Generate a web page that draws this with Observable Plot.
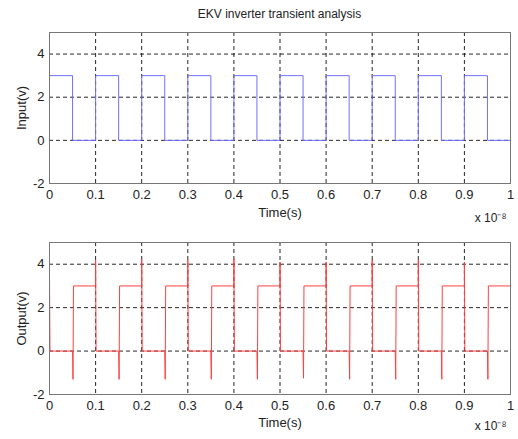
<!DOCTYPE html>
<html><head><meta charset="utf-8">
<script src="https://cdn.jsdelivr.net/npm/d3@7"></script>
<script src="https://cdn.jsdelivr.net/npm/@observablehq/plot@0.6"></script>
<style>
body{margin:0;background:#fff;font-family:"Liberation Sans",Arial,sans-serif;}
#wrap{position:relative;width:518px;height:439px;}
#title{position:absolute;top:7px;left:49px;width:461px;text-align:center;font-size:12px;color:#222;z-index:5;}
#p1{position:absolute;top:0;left:0;}
#p2{position:absolute;top:220px;left:0;}
</style></head>
<body>
<div id="wrap"><div id="p1"></div><div id="p2"></div><div id="title"></div></div>
<script>
const titleText = "EKV inverter transient analysis";
const xTicks = [0,0.1,0.2,0.3,0.4,0.5,0.6,0.7,0.8,0.9,1];
const xTickLabels = ["0","0.1","0.2","0.3","0.4","0.5","0.6","0.7","0.8","0.9","1"];
const yTicks = [-2,0,2,4];
const xExponent = "x 10⁻⁸";

const inT = [0,0.05,0.05,0.1, 0.1,0.15,0.15,0.2, 0.2,0.25,0.25,0.3, 0.3,0.35,0.35,0.4, 0.4,0.45,0.45,0.5,
             0.5,0.55,0.55,0.6, 0.6,0.65,0.65,0.7, 0.7,0.75,0.75,0.8, 0.8,0.85,0.85,0.9, 0.9,0.95,0.95,1];
const inV = [3,3,0,0, 3,3,0,0, 3,3,0,0, 3,3,0,0, 3,3,0,0,
             3,3,0,0, 3,3,0,0, 3,3,0,0, 3,3,0,0, 3,3,0,0];

const outT = [0,0.001,0.05,0.051,0.052,0.1,
              0.1,0.101,0.15,0.151,0.152,0.2,
              0.2,0.201,0.25,0.251,0.252,0.3,
              0.3,0.301,0.35,0.351,0.352,0.4,
              0.4,0.401,0.45,0.451,0.452,0.5,
              0.5,0.501,0.55,0.551,0.552,0.6,
              0.6,0.601,0.65,0.651,0.652,0.7,
              0.7,0.701,0.75,0.751,0.752,0.8,
              0.8,0.801,0.85,0.851,0.852,0.9,
              0.9,0.901,0.95,0.951,0.952,1];
const outV = [3.5,0,0,-1.3,3,3,
              4.2,0,0,-1.3,3,3,
              4.25,0,0,-1.3,3,3,
              4.2,0,0,-1.3,3,3,
              4.25,0,0,-1.3,3,3,
              4.1,0,0,-1.25,3,3,
              4.1,0,0,-1.3,3,3,
              4.2,0,0,-1.3,3,3,
              4.2,0,0,-1.3,3,3,
              4.1,0,0,-1.3,3,3];

const inData = inT.map((t,i)=>({t, v: inV[i]}));
const outData = outT.map((t,i)=>({t, v: outV[i]}));

document.getElementById("title").textContent = titleText;

function panel(data, color, ylabel, height, mt, mb, labelOffset, expDy){
  return Plot.plot({
    width: 518, height, marginLeft: 49, marginRight: 8, marginTop: mt, marginBottom: mb,
    style: {fontFamily: '"Liberation Sans", Arial, sans-serif', fontSize: "13px", color: "#222", background: "transparent", overflow: "visible"},
    x: {domain: [0,1]},
    y: {domain: [-2,5]},
    marks: [
      Plot.gridX(xTicks.slice(1,-1), {stroke: "#000", strokeOpacity: 0.85, strokeDasharray: "4,3"}),
      Plot.gridY([0,2,4], {stroke: "#000", strokeOpacity: 0.85, strokeDasharray: "4,3"}),
      Plot.line(data, {x: "t", y: "v", stroke: color, strokeWidth: 1}),
      Plot.frame({stroke: "#777"}),
      Plot.axisX({ticks: xTicks, tickFormat: (d,i)=>xTickLabels[i], tickSize: 0, tickPadding: 6,
        label: "Time(s)", labelAnchor: "center", labelArrow: "none", labelOffset: labelOffset, fontSize: 13}),
      Plot.axisY({ticks: yTicks, tickFormat: d=>String(d), tickSize: 0, tickPadding: 5,
        label: ylabel, labelAnchor: "center", labelArrow: "none", labelOffset: 33, fontSize: 13}),
      Plot.text([xExponent], {frameAnchor: "bottom-right", text: d=>d, dy: expDy, dx: -4, fontSize: 12, fill: "#222"})
    ]
  });
}
document.getElementById("p1").append(panel(inData, "#7070ff", "Input(v)", 220, 32, 37, 33, 38));
document.getElementById("p2").append(panel(outData, "#ff4040", "Output(v)", 219, 22, 45, 32, 35));
</script>
</body></html>
